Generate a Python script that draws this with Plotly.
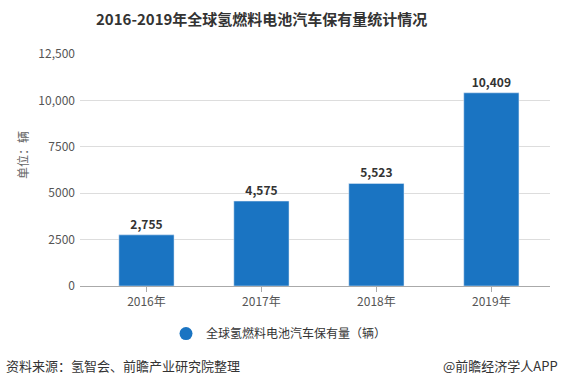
import plotly.graph_objects as go

categories = ["2016年", "2017年", "2018年", "2019年"]
values = [2755, 4575, 5523, 10409]
y_tickvals = [0, 2500, 5000, 7500, 10000, 12500]
y_ticktext = ["0", "2500", "5000", "7500", "10,000", "12,500"]
series_name = "全球氢燃料电池汽车保有量（辆）"

FONT = "Noto Sans CJK SC, Microsoft YaHei, sans-serif"
BLUE = "#1a74c2"

x_idx = list(range(len(categories)))
labels = [f"{v:,}" for v in values]

fig = go.Figure()
fig.add_trace(go.Bar(
    x=x_idx, y=values, marker_color=BLUE, width=0.48,
    text=labels, texttemplate="<b>%{text}</b>", textposition="outside",
    textfont=dict(size=12, color="#333333", family=FONT),
    cliponaxis=False, showlegend=False, hoverinfo="skip",
))
fig.add_trace(go.Scatter(
    x=[None], y=[None], mode="markers", name=series_name,
    marker=dict(symbol="circle", size=13, color=BLUE), showlegend=True,
))

fig.update_layout(
    width=562, height=386,
    margin=dict(l=80, r=12, t=54, b=100),
    paper_bgcolor="white", plot_bgcolor="white",
    font=dict(family=FONT, color="#666666", size=12),
    bargap=0.52,
    showlegend=True,
    legend=dict(orientation="h", x=(166 - 80) / 470, y=-0.205, xanchor="left", yanchor="middle",
                font=dict(size=12, color="#333333", family=FONT), itemsizing="trace",
                bgcolor="rgba(0,0,0,0)"),
)
fig.update_xaxes(
    range=[-0.578, 3.51], tickvals=x_idx, ticktext=categories,
    showgrid=False, showline=True, linecolor="#aaaaaa", linewidth=1,
    ticks="outside", ticklen=5, tickcolor="#aaaaaa",
    tickfont=dict(size=12, color="#555555"), zeroline=False, fixedrange=True,
)
fig.update_yaxes(
    range=[0, 12500], tickvals=y_tickvals, ticktext=y_ticktext,
    showgrid=True, gridcolor="#dddddd", gridwidth=1,
    zeroline=False, showline=False,
    tickfont=dict(size=12, color="#555555"), ticklabelstandoff=4, fixedrange=True,
)

fig.add_annotation(text="<b>2016-2019年全球氢燃料电池汽车保有量统计情况</b>",
                   xref="paper", yref="paper", x=(261 - 80) / 470, y=(286 - 18) / 232,
                   xanchor="center", yanchor="middle", showarrow=False,
                   font=dict(size=15, color="#333333", family=FONT))
fig.add_annotation(text="单位：辆", textangle=-90,
                   xref="paper", yref="paper", x=(22 - 80) / 470, y=(286 - 155) / 232,
                   xanchor="center", yanchor="middle", showarrow=False,
                   font=dict(size=12, color="#666666", family=FONT))
fig.add_annotation(text="资料来源：氢智会、前瞻产业研究院整理",
                   xref="paper", yref="paper", x=(4 - 80) / 470, y=(286 - 365) / 232,
                   xanchor="left", yanchor="middle", showarrow=False,
                   font=dict(size=13, color="#333333", family=FONT))
fig.add_annotation(text="@前瞻经济学人APP",
                   xref="paper", yref="paper", x=(560 - 80) / 470, y=(286 - 365) / 232,
                   xanchor="right", yanchor="middle", showarrow=False,
                   font=dict(size=13, color="#333333", family=FONT))

fig.write_html("out.html", config={"displayModeBar": False},
               post_script="document.body.style.margin='0';")
